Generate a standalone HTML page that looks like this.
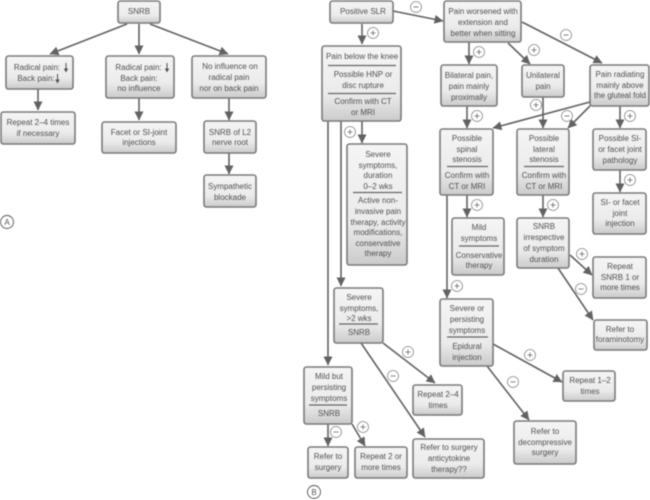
<!DOCTYPE html>
<html><head><meta charset="utf-8"><style>
html,body{margin:0;padding:0;background:#fff;width:650px;height:500px;overflow:hidden}
svg{display:block;filter:blur(.45px)}
text{font-family:"Liberation Sans",sans-serif;font-size:8px;fill:#505050;text-anchor:middle}
.b{fill:url(#g);stroke:#7a7a7a;stroke-width:1.6}
.l{stroke:#666;stroke-width:1.2}
.a{stroke:#626262;stroke-width:1.6;fill:none;marker-end:url(#m)}
.c{fill:#fff;stroke:#888;stroke-width:.8}
.s{stroke:#666;stroke-width:.8}
.d{stroke:#505050;stroke-width:1;fill:none}
.h{fill:#505050}
</style></head><body>
<svg width="650" height="500" viewBox="0 0 650 500" xmlns="http://www.w3.org/2000/svg">
<defs>
<linearGradient id="g" x1="0" y1="0" x2="0" y2="1"><stop offset="0" stop-color="#f5f5f5"/><stop offset=".65" stop-color="#ebebeb"/><stop offset="1" stop-color="#cbcbcb"/></linearGradient>
<marker id="m" markerUnits="userSpaceOnUse" markerWidth="10" markerHeight="9" refX="8.500" refY="4.500" orient="auto"><path d="M0 0L9 4.500L0 9Z" fill="#626262"/></marker>
</defs>
<!-- connectors A -->
<path class="a" d="M127 24L50 54"/><path class="a" d="M139 24V54"/><path class="a" d="M150 24L228 54"/>
<path class="a" d="M38 89V110"/><path class="a" d="M139 98V120"/><path class="a" d="M229 98V120"/><path class="a" d="M229 153V174"/>
<!-- connectors B -->
<path class="a" d="M362 24V44"/><path class="a" d="M393 11L443 21"/><path class="a" d="M469 42V64"/><path class="a" d="M508 43L530 64"/><path class="a" d="M522 22L602 63"/>
<path class="a" d="M467 106V128"/><path class="a" d="M543 97V128"/><path class="a" d="M590 102L493 128"/><path class="a" d="M590 106L568 128"/><path class="a" d="M620 106V128"/><path class="a" d="M620 170V192"/>
<path class="a" d="M362 121V143"/><path class="a" d="M341 121V286"/><path class="a" d="M328 121V365"/>
<path class="a" d="M467 195V217"/><path class="a" d="M447 195V298"/><path class="a" d="M543 195V217"/>
<path class="a" d="M570 255L592 275"/><path class="a" d="M558 268L593 320"/>
<path class="a" d="M493 344L562 382"/><path class="a" d="M487 366L529 420"/>
<path class="a" d="M383 343L435 383"/><path class="a" d="M361 343L425 437"/>
<path class="a" d="M328 424V446"/><path class="a" d="M352 424L365 446"/>
<!-- boxes A -->
<rect class="b" x="118" y="1" width="42" height="22" rx="2.500"/>
<rect class="b" x="6" y="56" width="67" height="33" rx="2.500"/>
<rect class="b" x="1" y="112" width="74" height="32" rx="2.500"/>
<rect class="b" x="106" y="56" width="68" height="42" rx="2.500"/>
<rect class="b" x="102" y="122" width="74" height="31" rx="2.500"/>
<rect class="b" x="192" y="56" width="74" height="42" rx="2.500"/>
<rect class="b" x="204" y="121" width="52" height="32" rx="2.500"/>
<rect class="b" x="204" y="175" width="52" height="32" rx="2.500"/>
<!-- boxes B -->
<rect class="b" x="330" y="1" width="63" height="22" rx="2.500"/>
<rect class="b" x="444" y="1" width="77" height="41" rx="2.500"/>
<rect class="b" x="322" y="46" width="79" height="75" rx="2.500"/>
<rect class="b" x="347" y="144" width="60" height="121" rx="2.500"/>
<rect class="b" x="441" y="65" width="56" height="41" rx="2.500"/>
<rect class="b" x="522" y="65" width="42" height="32" rx="2.500"/>
<rect class="b" x="590" y="65" width="59" height="41" rx="2.500"/>
<rect class="b" x="440" y="129" width="53" height="66" rx="2.500"/>
<rect class="b" x="517" y="129" width="52" height="66" rx="2.500"/>
<rect class="b" x="593" y="129" width="53" height="41" rx="2.500"/>
<rect class="b" x="593" y="193" width="53" height="41" rx="2.500"/>
<rect class="b" x="452" y="218" width="52" height="57" rx="2.500"/>
<rect class="b" x="517" y="218" width="52" height="50" rx="2.500"/>
<rect class="b" x="593" y="257" width="53" height="41" rx="2.500"/>
<rect class="b" x="594" y="320" width="53" height="30" rx="2.500"/>
<rect class="b" x="440" y="299" width="53" height="67" rx="2.500"/>
<rect class="b" x="563" y="371" width="52" height="30" rx="2.500"/>
<rect class="b" x="514" y="421" width="62" height="43" rx="2.500"/>
<rect class="b" x="334" y="288" width="49" height="55" rx="2.500"/>
<rect class="b" x="304" y="367" width="48" height="57" rx="2.500"/>
<rect class="b" x="308" y="447" width="40" height="31" rx="2.500"/>
<rect class="b" x="355" y="447" width="52" height="31" rx="2.500"/>
<rect class="b" x="413" y="385" width="49" height="30" rx="2.500"/>
<rect class="b" x="413" y="439" width="71" height="39" rx="2.500"/>
<!-- dividers -->
<path class="l" d="M328 65.500H396M328 93.500H396M353 192.500H402M447 166.500H488M524 166.500H564M459 246H499M447 337H488M339 324H378M309 405H347"/>
<!-- text A -->
<text x="139" y="14">SNRB</text>
<text x="37" y="70">Radical pain:</text><text x="36" y="81">Back pain:</text>
<text x="38" y="125">Repeat 2–4 times</text><text x="38" y="136">if necessary</text>
<text x="138.500" y="70">Radical pain:</text><text x="139" y="81">Back pain:</text><text x="139" y="91">no influence</text>
<text x="139" y="135">Facet or SI-joint</text><text x="139" y="145">injections</text>
<text x="230" y="69">No influence on</text><text x="229" y="80">radical pain</text><text x="229" y="91">nor on back pain</text>
<text x="230" y="135">SNRB of L2</text><text x="230" y="145">nerve root</text>
<text x="230" y="189">Sympathetic</text><text x="230" y="200">blockade</text>
<!-- down arrows in labels -->
<path class="d" d="M66 63V69M57.500 74V80M167 63V69"/>
<path class="h" d="M63.800 68.500H68.200L66 72.500ZM55.300 79.500H59.700L57.500 83.500ZM164.800 68.500H169.200L167 72.500Z"/>
<!-- text B -->
<text x="363" y="14">Positive SLR</text>
<text x="483" y="14">Pain worsened with</text><text x="483" y="25">extension and</text><text x="483" y="36">better when sitting</text>
<text x="362" y="59">Pain below the knee</text>
<text x="363" y="77">Possible HNP or</text><text x="363" y="88">disc rupture</text>
<text x="363" y="104">Confirm with CT</text><text x="363" y="115">or MRI</text>
<text x="378" y="157">Severe</text><text x="378" y="168">symptoms,</text><text x="378" y="178">duration</text><text x="378" y="189">0–2 wks</text>
<text x="378" y="203">Active non-</text><text x="378" y="214">invasive pain</text><text x="378" y="225">therapy, activity</text><text x="378" y="235">modifications,</text><text x="378" y="246">conservative</text><text x="378" y="256">therapy</text>
<text x="469" y="78">Bilateral pain,</text><text x="469" y="89">pain mainly</text><text x="469" y="100">proximally</text>
<text x="543" y="78">Unilateral</text><text x="543" y="89">pain</text>
<text x="620" y="77">Pain radiating</text><text x="620" y="88">mainly above</text><text x="620" y="98">the gluteal fold</text>
<text x="467" y="141">Possible</text><text x="467" y="152">spinal</text><text x="467" y="162">stenosis</text>
<text x="467" y="178">Confirm with</text><text x="467" y="189">CT or MRI</text>
<text x="544" y="141">Possible</text><text x="544" y="152">lateral</text><text x="544" y="162">stenosis</text>
<text x="544" y="178">Confirm with</text><text x="544" y="189">CT or MRI</text>
<text x="620" y="141">Possible SI-</text><text x="620" y="152">or facet joint</text><text x="620" y="163">pathology</text>
<text x="620" y="205">SI- or facet</text><text x="620" y="216">joint</text><text x="620" y="226">injection</text>
<text x="479" y="230">Mild</text><text x="479" y="241">symptoms</text>
<text x="479" y="258">Conservative</text><text x="479" y="268">therapy</text>
<text x="544" y="229">SNRB</text><text x="544" y="240">irrespective</text><text x="544" y="251">of symptom</text><text x="544" y="262">duration</text>
<text x="620" y="269">Repeat</text><text x="620" y="280">SNRB 1 or</text><text x="620" y="290">more times</text>
<text x="620" y="332">Refer to</text><text x="620" y="342">foraminotomy</text>
<text x="467" y="311">Severe or</text><text x="467" y="322">persisting</text><text x="467" y="333">symptoms</text>
<text x="467" y="349">Epidural</text><text x="467" y="360">injection</text>
<text x="590" y="383">Repeat 1–2</text><text x="590" y="394">times</text>
<text x="545" y="434">Refer to</text><text x="545" y="445">decompressive</text><text x="545" y="455">surgery</text>
<text x="359" y="300">Severe</text><text x="359" y="311">symptoms,</text><text x="359" y="321">&gt;2 wks</text>
<text x="359" y="335">SNRB</text>
<text x="329" y="379">Mild but</text><text x="329" y="390">persisting</text><text x="329" y="401">symptoms</text>
<text x="329" y="416">SNRB</text>
<text x="328" y="459">Refer to</text><text x="328" y="470">surgery</text>
<text x="381" y="459">Repeat 2 or</text><text x="381" y="470">more times</text>
<text x="438" y="397">Repeat 2–4</text><text x="438" y="408">times</text>
<text x="449" y="450">Refer to surgery</text><text x="449" y="461">anticytokine</text><text x="449" y="472">therapy??</text>
<!-- plus circles -->
<g>
<circle class="c" cx="373" cy="33" r="5.500"/><path class="s" d="M370.500 33H375.500M373 30.500V35.500"/>
<circle class="c" cx="350" cy="132" r="5.500"/><path class="s" d="M347.500 132H352.500M350 129.500V134.500"/>
<circle class="c" cx="479" cy="52" r="5.500"/><path class="s" d="M476.500 52H481.500M479 49.500V54.500"/>
<circle class="c" cx="534" cy="50" r="5.500"/><path class="s" d="M531.500 50H536.500M534 47.500V52.500"/>
<circle class="c" cx="477" cy="116" r="5.500"/><path class="s" d="M474.500 116H479.500M477 113.500V118.500"/>
<circle class="c" cx="536" cy="105" r="5.500"/><path class="s" d="M533.500 105H538.500M536 102.500V107.500"/>
<circle class="c" cx="630" cy="116" r="5.500"/><path class="s" d="M627.500 116H632.500M630 113.500V118.500"/>
<circle class="c" cx="630" cy="180" r="5.500"/><path class="s" d="M627.500 180H632.500M630 177.500V182.500"/>
<circle class="c" cx="553" cy="205" r="5.500"/><path class="s" d="M550.500 205H555.500M553 202.500V207.500"/>
<circle class="c" cx="477" cy="205" r="5.500"/><path class="s" d="M474.500 205H479.500M477 202.500V207.500"/>
<circle class="c" cx="582" cy="254" r="5.500"/><path class="s" d="M579.500 254H584.500M582 251.500V256.500"/>
<circle class="c" cx="457" cy="286" r="5.500"/><path class="s" d="M454.500 286H459.500M457 283.500V288.500"/>
<circle class="c" cx="408" cy="352" r="5.500"/><path class="s" d="M405.500 352H410.500M408 349.500V354.500"/>
<circle class="c" cx="363" cy="427" r="5.500"/><path class="s" d="M360.500 427H365.500M363 424.500V429.500"/>
<circle class="c" cx="530" cy="355" r="5.500"/><path class="s" d="M527.500 355H532.500M530 352.500V357.500"/>
</g>
<!-- minus circles -->
<g>
<circle class="c" cx="416" cy="7" r="5.500"/><path class="s" d="M413.500 7H418.500"/>
<circle class="c" cx="566" cy="35" r="5.500"/><path class="s" d="M563.500 35H568.500"/>
<circle class="c" cx="567" cy="116" r="5.500"/><path class="s" d="M564.500 116H569.500"/>
<circle class="c" cx="581" cy="289" r="5.500"/><path class="s" d="M578.500 289H583.500"/>
<circle class="c" cx="393" cy="376" r="5.500"/><path class="s" d="M390.500 376H395.500"/>
<circle class="c" cx="336" cy="432" r="5.500"/><path class="s" d="M333.500 432H338.500"/>
<circle class="c" cx="513" cy="382" r="5.500"/><path class="s" d="M510.500 382H515.500"/>
</g>
<!-- panel labels -->
<circle cx="7" cy="222" r="6.500" fill="#fff" stroke="#555" stroke-width=".9"/><text x="7" y="225" style="font-size:8px">A</text>
<circle cx="314" cy="492" r="6.500" fill="#fff" stroke="#555" stroke-width=".9"/><text x="314" y="495" style="font-size:8px">B</text>
</svg>
</body></html>
